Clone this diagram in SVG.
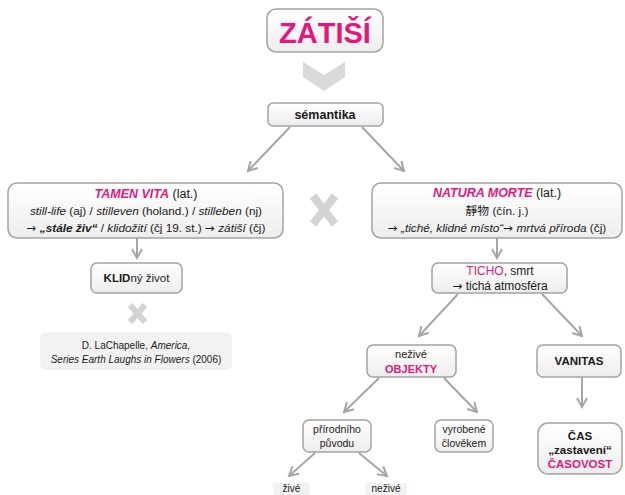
<svg xmlns="http://www.w3.org/2000/svg" width="625" height="495" viewBox="0 0 625 495">
<defs>
<linearGradient id="g" x1="0" y1="0" x2="0" y2="1">
<stop offset="0" stop-color="#ffffff"/>
<stop offset="1" stop-color="#ededed"/>
</linearGradient>
<marker id="ah" viewBox="0 0 12 12" refX="10" refY="6" markerWidth="12" markerHeight="12" markerUnits="userSpaceOnUse" orient="auto">
<path d="M1,1 L10,6 L1,11" fill="none" stroke="#a6a6a6" stroke-width="2"/>
</marker>
<style>
text{font-family:"Liberation Sans",Arial,"Noto Sans CJK TC",sans-serif;fill:#1a1a1a;text-anchor:middle}
.box{fill:url(#g);stroke:#a3a3a3;stroke-width:1.5}
.cap{fill:#f2f2f2;stroke:none}
.pk{fill:#e2197c}
.b{font-weight:bold}
.i{font-style:italic}
.ar{font-family:"DejaVu Sans",sans-serif;font-style:normal;font-weight:normal}
.c{stroke:#a6a6a6;stroke-width:2;fill:none;marker-end:url(#ah)}
.x{stroke:#d3d3d3;stroke-linecap:butt}
</style>
</defs>
<rect width="625" height="495" fill="#ffffff"/>
<g id="connectors">
<line class="c" x1="290" y1="127" x2="248" y2="171"/>
<line class="c" x1="362" y1="127" x2="404" y2="171"/>
<line class="c" x1="137" y1="238" x2="137" y2="258"/>
<line class="c" x1="497" y1="238" x2="497" y2="258"/>
<line class="c" x1="458" y1="294" x2="419" y2="336"/>
<line class="c" x1="542" y1="294" x2="582" y2="336"/>
<line class="c" x1="379" y1="378" x2="344" y2="412"/>
<line class="c" x1="444" y1="378" x2="477" y2="412"/>
<line class="c" x1="582" y1="378" x2="582" y2="407"/>
<line class="c" x1="315" y1="453" x2="289" y2="476"/>
<line class="c" x1="359" y1="453" x2="387" y2="476"/>
</g>
<g id="chevron">
<polygon points="303,62 324,75 345,62 345,77 324,91 303,77" fill="#d9d9d9"/>
</g>
<g id="cross-big">
<line class="x" x1="313" y1="196" x2="335" y2="224" stroke-width="8"/>
<line class="x" x1="335" y1="196" x2="313" y2="224" stroke-width="8"/>
</g>
<g id="cross-small">
<line class="x" x1="130" y1="305" x2="145" y2="322" stroke-width="6"/>
<line class="x" x1="145" y1="305" x2="130" y2="322" stroke-width="6"/>
</g>
<g id="zatisi">
<rect class="box" x="267" y="9" width="116" height="43" rx="9"/>
<text x="325" y="43" class="pk b" font-size="29">ZÁTIŠÍ</text>
</g>
<g id="semantika">
<rect class="box" x="268" y="103" width="115" height="23" rx="5"/>
<text x="325" y="119" class="b" font-size="12.5">sémantika</text>
</g>
<g id="tamen-vita">
<rect class="box" x="8" y="183" width="275" height="55" rx="9"/>
<text x="146" y="198" font-size="12.5"><tspan class="pk b i">TAMEN VITA</tspan> (lat.)</text>
<text x="146" y="215" font-size="11.8"><tspan class="i">still-life</tspan> (aj) / <tspan class="i">stilleven</tspan> (holand.) / <tspan class="i">stilleben</tspan> (nj)</text>
<text x="146" y="232" font-size="11.8"><tspan class="ar">→</tspan> <tspan class="b i">„stále živ“</tspan> / <tspan class="i">klidožití</tspan> (čj 19. st.) <tspan class="ar">→</tspan> <tspan class="i">zátiší</tspan> (čj)</text>
</g>
<g id="natura-morte">
<rect class="box" x="372" y="183" width="250" height="55" rx="9"/>
<text x="497" y="197" font-size="12.5"><tspan class="pk b i">NATURA MORTE</tspan> (lat.)</text>
<text x="497" y="215" font-size="11.8">靜物 (čín. j.)</text>
<text x="497" y="232" font-size="11.8"><tspan class="ar">→</tspan> <tspan class="i">„tiché, klidné místo“</tspan><tspan class="ar">→</tspan> <tspan class="i">mrtvá příroda</tspan> (čj)</text>
</g>
<g id="klidny-zivot">
<rect class="box" x="91" y="263" width="91" height="30" rx="6"/>
<text x="136.5" y="282" font-size="11.5"><tspan class="b">KLID</tspan>ný život</text>
</g>
<g id="caption">
<rect class="cap" x="40" y="332" width="192" height="38" rx="6"/>
<text x="136" y="349" font-size="10">D. LaChapelle, <tspan class="i">America,</tspan></text>
<text x="136" y="363" font-size="10"><tspan class="i">Series Earth Laughs in Flowers</tspan> (2006)</text>
</g>
<g id="ticho">
<rect class="box" x="432" y="263" width="135" height="30" rx="6"/>
<text x="500" y="275" font-size="12"><tspan class="pk">TICHO</tspan>, smrt</text>
<text x="500" y="290" font-size="12"><tspan class="ar">→</tspan> tichá atmosféra</text>
</g>
<g id="objekty">
<rect class="box" x="367" y="345" width="89" height="32" rx="6"/>
<text x="411" y="358" font-size="11">neživé</text>
<text x="411" y="373" class="pk b" font-size="11">OBJEKTY</text>
</g>
<g id="vanitas">
<rect class="box" x="537" y="345" width="84" height="32" rx="6"/>
<text x="579" y="365" class="b" font-size="11.5">VANITAS</text>
</g>
<g id="prirodniho">
<rect class="box" x="303" y="420" width="68" height="32" rx="6"/>
<text x="337" y="433" font-size="10.5">přírodního</text>
<text x="337" y="447" font-size="10.5">původu</text>
</g>
<g id="vyrobene">
<rect class="box" x="435" y="420" width="58" height="32" rx="6"/>
<text x="464" y="433" font-size="10.5">vyrobené</text>
<text x="464" y="447" font-size="10.5">člověkem</text>
</g>
<g id="cas">
<rect class="box" x="538" y="423" width="84" height="51" rx="10"/>
<text x="580" y="440" class="b" font-size="11.5">ČAS</text>
<text x="580" y="454" class="b" font-size="11.5">„zastavení“</text>
<text x="580" y="468" class="pk b" font-size="11.5">ČASOVOST</text>
</g>
<g id="zive">
<rect class="cap" x="273" y="483" width="37" height="12" rx="2"/>
<text x="291.5" y="492" font-size="10">živé</text>
</g>
<g id="nezive">
<rect class="cap" x="365" y="483" width="42" height="12" rx="2"/>
<text x="386" y="492" font-size="10">neživé</text>
</g>
</svg>
